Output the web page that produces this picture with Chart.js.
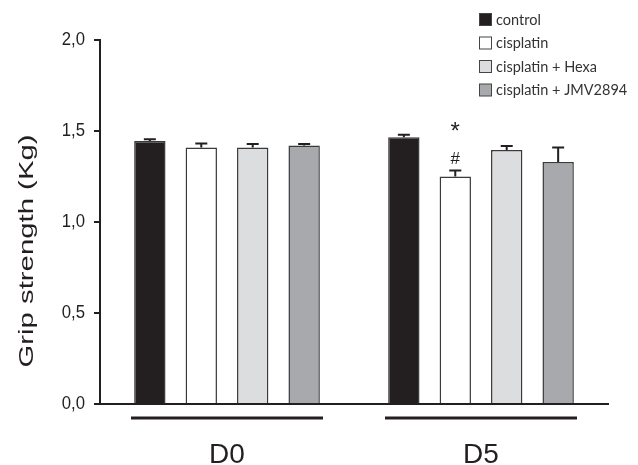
<!DOCTYPE html>
<html lang="en">
<head>
<meta charset="UTF-8">
<title>Grip strength</title>
<script src="https://cdn.jsdelivr.net/npm/chart.js"></script>
<style>
  html, body { margin: 0; padding: 0; background: #fff; }
  #wrap { width: 638px; height: 465px; }
</style>
</head>
<body>
<div id="wrap"><canvas id="myChart"></canvas></div>
<script>
const days = ['D0', 'D5'];
const seriesNames = ['control', 'cisplatin', 'cisplatin + Hexa', 'cisplatin + JMV2894'];
const control = [1.445, 1.465];
const cisplatin = [1.41, 1.25];
const cisplatinHexa = [1.41, 1.395];
const cisplatinJmv = [1.42, 1.33];
const controlErr = [0.01, 0.015];
const cisplatinErr = [0.022, 0.033];
const cisplatinHexaErr = [0.018, 0.023];
const cisplatinJmvErr = [0.008, 0.08];
const yTickLabels = ['0,0', '0,5', '1,0', '1,5', '2,0'];
const yTitle = 'Grip strength (Kg)';
// significance marks over cisplatin at D5
const marks = [{ series: 1, day: 1, text: '#' }, { series: 1, day: 1, text: '*' }];

const fills = ['#231f20', '#ffffff', '#dcddde', '#a7a9ac'];
const ink = '#231f20';

const values = [control, cisplatin, cisplatinHexa, cisplatinJmv];
const errors = [controlErr, cisplatinErr, cisplatinHexaErr, cisplatinJmvErr];

const extras = {
    id: 'extras',
    afterDatasetsDraw(chart) {
        const c = chart.ctx;
        const y = chart.scales.y;
        const x = chart.scales.x;
        c.save();
        // error bars (upward only)
        c.strokeStyle = ink;
        c.lineWidth = 2;
        chart.data.datasets.forEach((ds, i) => {
            chart.getDatasetMeta(i).data.forEach((bar, j) => {
                const top = y.getPixelForValue(ds.data[j] + errors[i][j]);
                c.beginPath();
                c.moveTo(bar.x, bar.y);
                c.lineTo(bar.x, top);
                c.moveTo(bar.x - 6, top);
                c.lineTo(bar.x + 6, top);
                c.stroke();
            });
        });
        // significance marks
        c.fillStyle = ink;
        c.textAlign = 'center';
        c.textBaseline = 'middle';
        marks.forEach((m, k) => {
            const bar = chart.getDatasetMeta(m.series).data[m.day];
            const top = y.getPixelForValue(values[m.series][m.day] + errors[m.series][m.day]);
            c.font = k === 0 ? '17px "Liberation Sans", Arial' : '24px "Liberation Sans", Arial';
            c.fillText(m.text, bar.x, top - 11 - k * 27);
        });
        // group underlines
        c.lineWidth = 3;
        days.forEach((d, i) => {
            const cx = x.getPixelForValue(i);
            const ly = chart.chartArea.bottom + 14;
            c.beginPath();
            c.moveTo(cx - 96, ly);
            c.lineTo(cx + 96, ly);
            c.stroke();
        });
        // y tick labels, drawn a little condensed like the original
        c.font = '19px "Liberation Sans", Arial';
        c.textAlign = 'right';
        y.ticks.forEach((t, i) => {
            c.save();
            c.translate(85, y.getPixelForValue(t.value));
            c.scale(0.88, 1);
            c.fillText(yTickLabels[i], 0, 0);
            c.restore();
        });
        // y title, stretched along its length like the original figure
        c.save();
        c.translate(27, 251);
        c.rotate(-Math.PI / 2);
        c.font = '21px "Liberation Sans", Arial';
        const w = c.measureText(yTitle).width;
        c.scale(233 / w, 1);
        c.textAlign = 'center';
        c.fillText(yTitle, 0, 0);
        c.restore();
        // legend
        c.font = '14.5px Lato, "Open Sans", sans-serif';
        c.textAlign = 'left';
        seriesNames.forEach((name, i) => {
            const ry = 20 + i * 23.5;
            c.fillStyle = fills[i];
            c.fillRect(479.5, ry - 6.5, 12, 12);
            c.strokeStyle = '#444';
            c.lineWidth = 1;
            c.strokeRect(479.5, ry - 6.5, 12, 12);
            c.fillStyle = '#333';
            c.fillText(name, 496, ry);
        });
        c.restore();
    }
};

const ctx = document.getElementById('myChart').getContext('2d');
const chart = new Chart(ctx, {
    type: 'bar',
    data: {
        labels: days,
        datasets: seriesNames.map((name, i) => ({
            label: name,
            data: values[i],
            backgroundColor: fills[i],
            borderColor: '#3a3a3a',
            borderWidth: 1.5,
            categoryPercentage: 0.81,
            barPercentage: 0.61
        }))
    },
    options: {
        responsive: true,
        maintainAspectRatio: false,
        animation: false,
        layout: { padding: { top: 40, right: 30, bottom: 0, left: 0 } },
        plugins: {
            legend: { display: false },
            tooltip: { enabled: false }
        },
        scales: {
            x: {
                grid: { display: false, drawTicks: false },
                border: { display: true, color: ink, width: 2 },
                ticks: {
                    color: ink,
                    padding: 34,
                    font: { family: '"Liberation Sans", Arial', size: 28 }
                },
                afterFit(scale) { scale.height = 61; }
            },
            y: {
                min: 0,
                max: 2,
                grid: { drawOnChartArea: false, drawTicks: true, tickLength: 6, color: ink, lineWidth: 2 },
                border: { display: true, color: ink, width: 2 },
                ticks: {
                    stepSize: 0.5,
                    color: 'rgba(0,0,0,0)',
                    padding: 10,
                    font: { family: '"Liberation Sans", Arial', size: 18 },
                    callback: (v, i) => yTickLabels[i]
                },
                afterFit(scale) { scale.width = 100; }
            }
        }
    },
    plugins: [extras]
});
</script>
</body>
</html>
